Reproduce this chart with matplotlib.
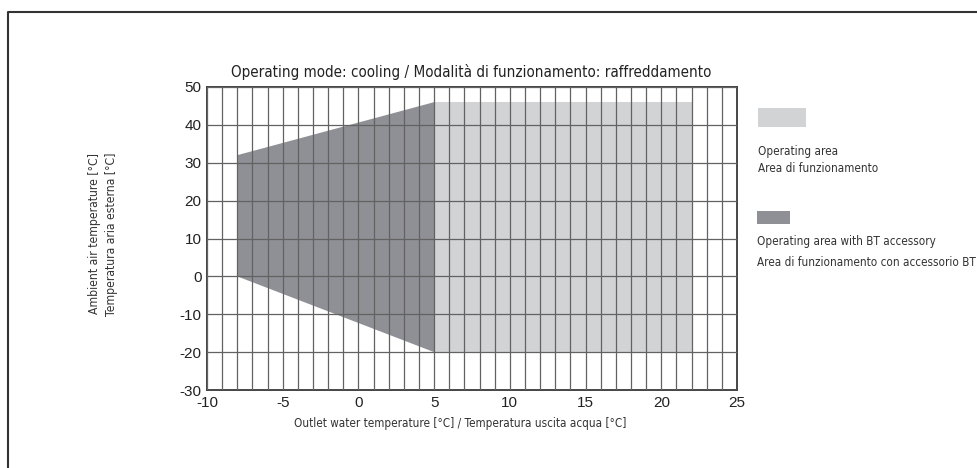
import matplotlib
matplotlib.use("Agg")
import matplotlib.pyplot as plt
from matplotlib.lines import Line2D
from matplotlib.patches import Rectangle
from matplotlib import font_manager

# operating envelope, cooling mode
bt_x = [-8, -8, 5, 5]          # area with BT accessory
bt_y = [0, 32, 46, -20]
op_x = [5, 5, 22, 22]          # standard operating area
op_y = [-20, 46, 46, -20]

x_ticks = [-10, -5, 0, 5, 10, 15, 20, 25]
y_ticks = [-30, -20, -10, 0, 10, 20, 30, 40, 50]

title = "Operating mode: cooling / Modalità di funzionamento: raffreddamento"
xlabel = "Outlet water temperature [°C] / Temperatura uscita acqua [°C]"
ylabel = "Ambient air temperature [°C]\nTemperatura aria esterna [°C]"
leg_op = "Operating area\nArea di funzionamento"
leg_bt = "Operating area with BT accessory\nArea di funzionamento con accessorio BT"

plt.rcParams["font.family"] = ["Liberation Sans", "DejaVu Sans"]
plt.rcParams["axes.unicode_minus"] = False

names = {f.name for f in font_manager.fontManager.ttflist}
cond = [f for f in font_manager.fontManager.ttflist
        if f.name == "DejaVu Sans" and f.stretch == "condensed"]
if "Liberation Sans Narrow" in names:
    nfont = dict(family="Liberation Sans Narrow")
    scale = 1.0
elif cond:
    nfont = dict(family="DejaVu Sans", stretch="condensed")
    scale = 0.84
else:
    nfont = dict(family="Liberation Sans")
    scale = 0.8

dark = "#8f9095"
light = "#d2d3d5"
txt = "#333333"

W, H = 978, 468
fig = plt.figure(figsize=(W / 100, H / 100), dpi=100)
ax = fig.add_axes([207 / W, 1 - 390 / H, (737 - 207) / W, (390 - 87) / H])

ax.fill(bt_x, bt_y, color=dark, lw=0, zorder=1)
ax.fill(op_x, op_y, color=light, lw=0, zorder=1)

ax.set_xlim(-10, 25)
ax.set_ylim(-30, 50)
ax.set_xticks(x_ticks)
ax.set_yticks(y_ticks)
ax.set_xticks(range(-10, 26), minor=True)
ax.grid(True, which="both", axis="x", color="#626262", lw=0.9, zorder=2)
ax.grid(True, which="major", axis="y", color="#626262", lw=0.9, zorder=2)
ax.set_axisbelow(False)
ax.tick_params(which="both", length=0, labelsize=11, colors="#222222", pad=4)
for s in ax.spines.values():
    s.set_color("#444444")
    s.set_linewidth(1.4)

fig.text(471 / W, 1 - 72 / H, title, ha="center", va="center",
         fontsize=13 * scale, color="#222222", **nfont)
fig.text(460 / W, 1 - 423 / H, xlabel, ha="center", va="center",
         fontsize=10 * scale, color=txt, **nfont)
fig.text(103 / W, 1 - 234 / H, ylabel, ha="center", va="center", rotation=90,
         fontsize=10.4 * scale, color=txt, linespacing=1.35, **nfont)

# legend
fig.patches.append(Rectangle((758 / W, 1 - 127 / H), 48 / W, 19 / H,
                             transform=fig.transFigure, color=light, lw=0))
fig.text(758 / W, 1 - 160 / H, leg_op, ha="left", va="center",
         fontsize=10 * scale, color=txt, linespacing=1.45, **nfont)
fig.patches.append(Rectangle((757 / W, 1 - 224 / H), 33 / W, 13 / H,
                             transform=fig.transFigure, color=dark, lw=0))
fig.text(757 / W, 1 - 252 / H, leg_bt, ha="left", va="center",
         fontsize=10 * scale, color=txt, linespacing=1.75, **nfont)

# outer frame (top and left edge)
fig.lines.append(Line2D([8 / W, 8 / W, 1.0], [0.0, 1 - 12 / H, 1 - 12 / H],
                        transform=fig.transFigure, color="#333333", lw=1.5))

fig.savefig("out.png", dpi=100)
